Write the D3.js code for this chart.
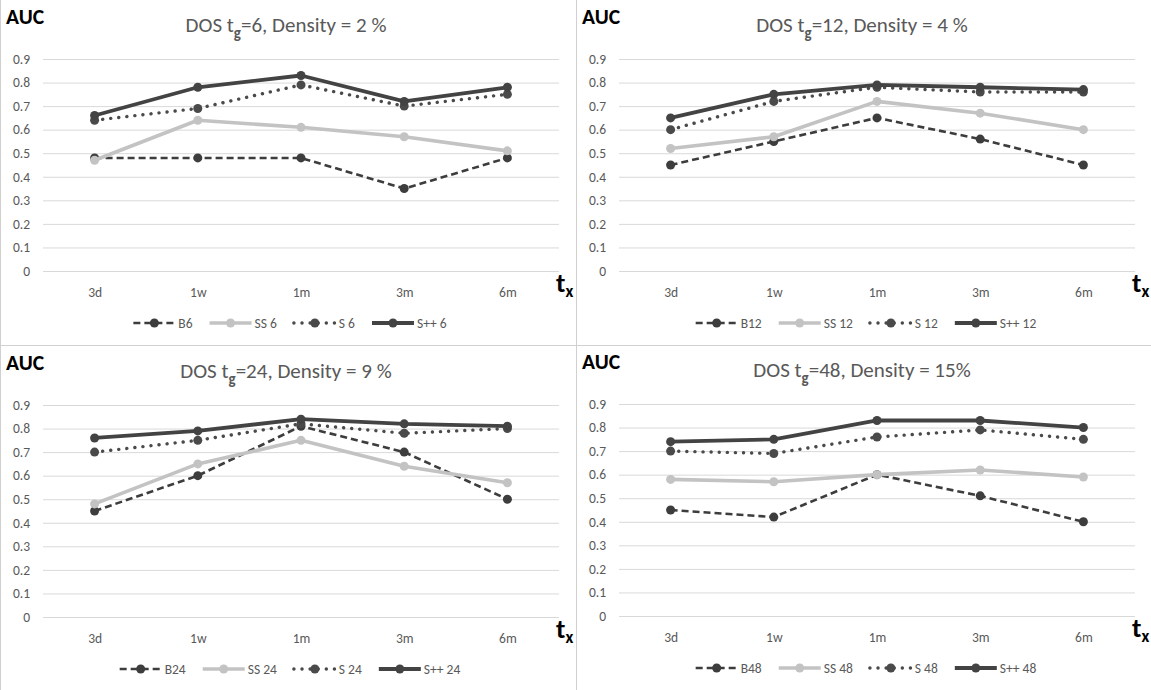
<!DOCTYPE html>
<html><head><meta charset="utf-8">
<script src="https://cdn.jsdelivr.net/npm/d3@7"></script>
<style>body{margin:0;background:#fff}svg{display:block}text{font-family:Carlito,Calibri,Lato,sans-serif}</style>
</head><body><svg id="c" width="1151" height="690"></svg>
<script>
const categories = ["3d","1w","1m","3m","6m"];
const yTickValues = [0,0.1,0.2,0.3,0.4,0.5,0.6,0.7,0.8,0.9];
const seriesKinds = ["B","SS","S","S++"];

// t_g = 6
const b6  = [0.48,0.48,0.48,0.35,0.48];
const ss6 = [0.47,0.64,0.61,0.57,0.51];
const s6  = [0.64,0.69,0.79,0.70,0.75];
const sp6 = [0.66,0.78,0.83,0.72,0.78];
// t_g = 12
const b12  = [0.45,0.55,0.65,0.56,0.45];
const ss12 = [0.52,0.57,0.72,0.67,0.60];
const s12  = [0.60,0.72,0.78,0.76,0.76];
const sp12 = [0.65,0.75,0.79,0.78,0.77];
// t_g = 24
const b24  = [0.45,0.60,0.81,0.70,0.50];
const ss24 = [0.48,0.65,0.75,0.64,0.57];
const s24  = [0.70,0.75,0.82,0.78,0.80];
const sp24 = [0.76,0.79,0.84,0.82,0.81];
// t_g = 48
const b48  = [0.45,0.42,0.60,0.51,0.40];
const ss48 = [0.58,0.57,0.60,0.62,0.59];
const s48  = [0.70,0.69,0.76,0.79,0.75];
const sp48 = [0.74,0.75,0.83,0.83,0.80];

const tgLabels = ["6","12","24","48"];
const densityLabels = ["2 %","4 %","9 %","15%"];
const legendNames = [
  ["B6","SS 6","S 6","S++ 6"],
  ["B12","SS 12","S 12","S++ 12"],
  ["B24","SS 24","S 24","S++ 24"],
  ["B48","SS 48","S 48","S++ 48"]
];
const panelValues = [[b6,ss6,s6,sp6],[b12,ss12,s12,sp12],[b24,ss24,s24,sp24],[b48,ss48,s48,sp48]];

const origins = [[0,0],[576,0],[0,346],[576,345]];
const styles = {
  "B":   {color:"#3d3d3d", width:2.6, dash:"7,4", cap:"butt", mcolor:"#3d3d3d"},
  "SS":  {color:"#c3c3c3", width:3.6, dash:null, cap:"butt", mcolor:"#c3c3c3"},
  "S":   {color:"#4a4a4a", width:3.4, dash:"0.1,8", cap:"round", mcolor:"#4a4a4a"},
  "S++": {color:"#434343", width:3.8, dash:null, cap:"butt", mcolor:"#434343"}
};

const svg = d3.select("#c");
svg.append("rect").attr("width",1151).attr("height",690).attr("fill","#fff");

const plotL = 43, plotR = 559, plotT = 59, plotB = 271, panelW = 576;
const FONT = "Carlito,Calibri,Lato,sans-serif";

panelValues.forEach((vals, pi) => {
  const [ox, oy] = origins[pi];
  const g = svg.append("g").attr("transform", `translate(${ox},${oy})`);
  const x = d3.scalePoint().domain(categories).range([plotL,plotR]).padding(0.5);
  const y = d3.scaleLinear().domain([0,0.9]).range([plotB,plotT]);

  const ya = g.append("g").attr("transform",`translate(${plotL},0)`)
    .call(d3.axisLeft(y).tickValues(yTickValues).tickSize(-(plotR-plotL)).tickPadding(13)
      .tickFormat(d => d === 0 ? "0" : d.toFixed(1)));
  ya.select(".domain").remove();
  ya.selectAll(".tick line").attr("stroke","#d9d9d9").attr("stroke-width",1);
  ya.selectAll(".tick text").attr("fill","#595959").style("font-size","13.5px").style("font-family",FONT);

  const xa = g.append("g").attr("transform",`translate(0,${plotB})`)
    .call(d3.axisBottom(x).tickSize(0).tickPadding(16));
  xa.select(".domain").remove();
  xa.selectAll(".tick text").attr("fill","#595959").style("font-size","13.5px").style("font-family",FONT);

  const line = d3.line().x((d,i) => x(categories[i])).y(d => y(d));
  seriesKinds.forEach((k, si) => {
    const st = styles[k];
    g.append("path").datum(vals[si]).attr("d", line).attr("fill","none")
      .attr("stroke", st.color).attr("stroke-width", st.width)
      .attr("stroke-dasharray", st.dash).attr("stroke-linecap", st.cap)
      .attr("stroke-linejoin","round");
    g.selectAll(null).data(vals[si]).enter().append("circle")
      .attr("cx",(d,i)=>x(categories[i])).attr("cy",d=>y(d)).attr("r",4.5)
      .attr("fill", st.mcolor);
  });

  g.append("text").attr("x",6).attr("y",24).text("AUC")
    .attr("fill","#000").style("font-size","21.5px").style("font-weight","bold");

  const t = g.append("text").attr("x", panelW/2 - 2).attr("y", 32).attr("text-anchor","middle")
    .attr("fill","#595959").style("font-size","21px");
  t.append("tspan").text("DOS t");
  t.append("tspan").attr("dy",6).style("font-size","15px").style("font-weight","bold").text("g");
  t.append("tspan").attr("dy",-6).text("=" + tgLabels[pi] + ", Density = " + densityLabels[pi]);

  const tx = g.append("text").attr("x",556).attr("y",292).attr("fill","#000").style("font-weight","bold");
  tx.append("tspan").style("font-size","27px").text("t");
  tx.append("tspan").attr("dy",5).style("font-size","17px").text("x");

  const lg = g.append("g");
  let cx = 0;
  const ly = 323;
  seriesKinds.forEach((k, si) => {
    const st = styles[k];
    const it = lg.append("g").attr("transform",`translate(${cx},0)`);
    it.append("line").attr("x1",0).attr("x2",42).attr("y1",ly).attr("y2",ly)
      .attr("stroke",st.color).attr("stroke-width",st.width)
      .attr("stroke-dasharray",st.dash).attr("stroke-linecap",st.cap);
    it.append("circle").attr("cx",21).attr("cy",ly).attr("r",4.5).attr("fill",st.mcolor);
    const tt = it.append("text").attr("x",45).attr("y",ly+5).attr("fill","#595959")
      .style("font-size","13.5px").text(legendNames[pi][si]);
    cx += 45 + tt.node().getComputedTextLength() + 17;
  });
  const total = cx - 17;
  lg.attr("transform",`translate(${290 - total/2},0)`);
});

svg.append("line").attr("x1",576.5).attr("x2",576.5).attr("y1",0).attr("y2",690).attr("stroke","#d0d0d0");
svg.append("line").attr("x1",0).attr("x2",1151).attr("y1",345.5).attr("y2",345.5).attr("stroke","#d0d0d0");
svg.append("line").attr("x1",0.5).attr("x2",0.5).attr("y1",0).attr("y2",690).attr("stroke","#d0d0d0");
</script></body></html>
